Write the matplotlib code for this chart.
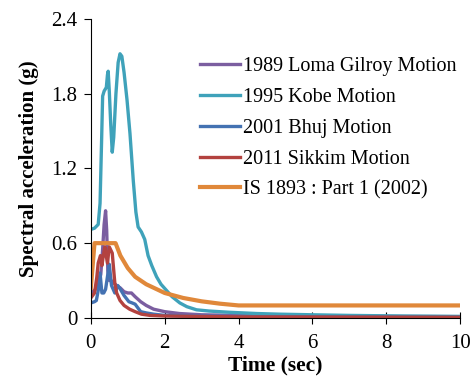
import matplotlib
matplotlib.use("Agg")
import matplotlib.pyplot as plt

plt.rcParams["font.family"] = ["Liberation Serif", "DejaVu Serif"]

# values
loma_t = [0, 0.1, 0.2, 0.27, 0.32, 0.36, 0.4, 0.43, 0.46, 0.5, 0.55, 0.62, 0.7, 0.8, 0.9, 1.0,
          1.1, 1.2, 1.35, 1.5, 1.7, 2.0, 2.4, 3, 4, 6, 8, 10]
loma_a = [0.2, 0.22, 0.26, 0.35, 0.55, 0.75, 0.86, 0.7, 0.38, 0.3, 0.3, 0.28, 0.26, 0.24, 0.21, 0.2,
          0.2, 0.17, 0.13, 0.1, 0.07, 0.05, 0.035, 0.025, 0.02, 0.015, 0.012, 0.01]

kobe_t = [0, 0.1, 0.2, 0.25, 0.29, 0.32, 0.36, 0.42, 0.45, 0.47, 0.5, 0.54, 0.58, 0.62, 0.68,
          0.74, 0.79, 0.84, 0.9, 0.98, 1.06, 1.15, 1.22, 1.28, 1.37, 1.46, 1.55, 1.65, 1.78, 1.9,
          2.05, 2.2, 2.41, 2.6, 2.86, 3.2, 3.76, 4.5, 5.1, 6, 7, 8.5, 10]
kobe_a = [0.71, 0.72, 0.75, 0.92, 1.4, 1.78, 1.82, 1.85, 1.95, 1.98, 1.82, 1.55, 1.33, 1.45, 1.8,
          2.05, 2.12, 2.1, 1.97, 1.75, 1.48, 1.1, 0.85, 0.73, 0.69, 0.63, 0.5, 0.42, 0.33, 0.27,
          0.22, 0.17, 0.12, 0.09, 0.065, 0.055, 0.045, 0.035, 0.03, 0.025, 0.02, 0.015, 0.012]

bhuj_t = [0, 0.1, 0.15, 0.2, 0.25, 0.3, 0.35, 0.4, 0.45, 0.5, 0.56, 0.65, 0.73, 0.8, 0.9, 1.03,
          1.12, 1.2, 1.35, 1.5, 1.7, 2.0, 2.5, 4, 10]
bhuj_a = [0.12, 0.13, 0.14, 0.22, 0.36, 0.2, 0.2, 0.23, 0.33, 0.43, 0.26, 0.2, 0.26, 0.23, 0.18, 0.13,
          0.12, 0.11, 0.05, 0.04, 0.03, 0.02, 0.015, 0.01, 0.005]

sikkim_t = [0, 0.1, 0.16, 0.2, 0.26, 0.3, 0.34, 0.38, 0.45, 0.5, 0.58, 0.65, 0.7, 0.79, 0.9, 1.05,
            1.2, 1.37, 1.6, 2, 4, 10]
sikkim_a = [0.16, 0.2, 0.32, 0.44, 0.5, 0.42, 0.5, 0.57, 0.44, 0.57, 0.52, 0.28, 0.2, 0.14, 0.1, 0.07,
            0.05, 0.03, 0.02, 0.015, 0.008, 0.005]

is_t = [0, 0.1, 0.67, 0.8, 1.0, 1.2, 1.5, 2.0, 2.5, 3.0, 3.5, 4.0, 10]
is_a = [0.24, 0.6, 0.6, 0.5, 0.4, 0.33, 0.27, 0.2, 0.16, 0.133, 0.114, 0.1, 0.1]

fig = plt.figure(figsize=(4.73, 3.78), dpi=100)
ax = fig.add_axes([0.192, 0.159, 0.781, 0.791])

ax.plot(loma_t, loma_a, color="#7B5EA0", lw=2.4, label="1989 Loma Gilroy Motion")
ax.plot(kobe_t, kobe_a, color="#3FA2BA", lw=2.4, label="1995 Kobe Motion")
ax.plot(bhuj_t, bhuj_a, color="#4472B2", lw=2.4, label="2001 Bhuj Motion")
ax.plot(sikkim_t, sikkim_a, color="#B3423F", lw=2.4, label="2011 Sikkim Motion")
ax.plot(is_t, is_a, color="#E0883A", lw=3, label="IS 1893 : Part 1 (2002)")

ax.set_xlim(0, 10)
ax.set_ylim(0, 2.4)
ax.set_xticks([0, 2, 4, 6, 8, 10])
ax.set_yticks([0, 0.6, 1.2, 1.8, 2.4])
ax.set_yticklabels(["0", "0.6", "1.2", "1.8", "2.4"])
ax.spines["top"].set_visible(False)
ax.spines["right"].set_visible(False)
ax.tick_params(axis="x", direction="inout", labelsize=15, length=8, pad=7.5)
ax.tick_params(axis="y", direction="out", labelsize=15, length=5, pad=4.5)
ax.set_xlabel("Time (sec)", fontsize=15.5, fontweight="bold", labelpad=2)
ax.set_ylabel("Spectral acceleration (g)", fontsize=15, fontweight="bold", labelpad=9)

ax.legend(loc="upper left", bbox_to_anchor=(0.295, 0.872), frameon=False, fontsize=14.5,
          handlelength=2.0, handletextpad=0.15, labelspacing=0.58, borderaxespad=0,
          borderpad=0)

fig.savefig("out.png", dpi=100)
